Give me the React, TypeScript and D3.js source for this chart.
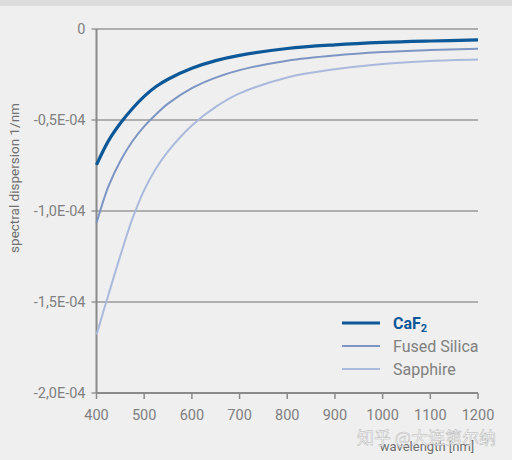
import React, { useEffect, useRef } from 'react';
import * as d3 from 'd3';

// wavelength [nm]
const wavelengths = [400, 425, 450, 475, 500, 525, 550, 600, 650, 700, 800, 900, 1000, 1100, 1200];

// spectral dispersion, in units of 1E-04 1/nm
const caf2 = [-0.747, -0.615, -0.518, -0.438, -0.37, -0.316, -0.276, -0.216, -0.174, -0.145, -0.107, -0.087, -0.074, -0.066, -0.06];
const fusedSilica = [-1.066, -0.865, -0.725, -0.618, -0.535, -0.468, -0.41, -0.325, -0.267, -0.226, -0.174, -0.145, -0.127, -0.116, -0.108];
const sapphire = [-1.68, -1.46, -1.245, -1.045, -0.885, -0.765, -0.672, -0.53, -0.428, -0.354, -0.266, -0.221, -0.192, -0.176, -0.168];

const xTicks = [400, 500, 600, 700, 800, 900, 1000, 1100, 1200];
const yTicks = [0, -0.5, -1.0, -1.5, -2.0];
const yTickLabels = ['0', '-0,5E-04', '-1,0E-04', '-1,5E-04', '-2,0E-04'];

const seriesNames = ['CaF2', 'Fused Silica', 'Sapphire'];
const seriesColors = ['#0d5898', '#7d95c2', '#aab9dc'];
const seriesWidths = [3.2, 2, 2];

const FONT = 'Roboto, sans-serif';

const Chart: React.FC = () => {
  const svgRef = useRef<SVGSVGElement | null>(null);

  useEffect(() => {
    const svg = d3.select(svgRef.current);
    svg.selectAll('*').remove();

    const width = 512;
    const height = 460;
    const margin = { top: 29, right: 34, bottom: 67, left: 96.5 };

    svg.append('rect').attr('width', width).attr('height', height).attr('fill', '#efefef');
    svg.append('rect').attr('width', width).attr('height', 6).attr('fill', '#dcdcdc');

    const x = d3.scaleLinear().domain([400, 1200]).range([margin.left, width - margin.right]);
    const y = d3.scaleLinear().domain([-2.0, 0]).range([height - margin.bottom, margin.top]);

    // grid
    svg
      .append('g')
      .selectAll('line')
      .data(yTicks)
      .join('line')
      .attr('x1', margin.left - 5)
      .attr('x2', x(1200))
      .attr('y1', (d) => y(d))
      .attr('y2', (d) => y(d))
      .attr('stroke', '#9a9a9a')
      .attr('stroke-width', 1.5);

    // y labels
    svg
      .append('g')
      .selectAll('text')
      .data(yTicks)
      .join('text')
      .attr('x', margin.left - 11)
      .attr('y', (d) => y(d))
      .attr('dy', '0.35em')
      .attr('text-anchor', 'end')
      .attr('font-family', FONT)
      .attr('font-size', 14.5)
      .attr('fill', '#808080')
      .text((_, i) => yTickLabels[i]);

    // axes
    svg
      .append('line')
      .attr('x1', x(400))
      .attr('x2', x(400))
      .attr('y1', y(0))
      .attr('y2', y(-2.0))
      .attr('stroke', '#8a8a8a')
      .attr('stroke-width', 2);
    svg
      .append('line')
      .attr('x1', x(400))
      .attr('x2', x(1200))
      .attr('y1', y(-2.0))
      .attr('y2', y(-2.0))
      .attr('stroke', '#8a8a8a')
      .attr('stroke-width', 2);

    svg
      .append('g')
      .selectAll('line')
      .data(xTicks)
      .join('line')
      .attr('x1', (d) => x(d))
      .attr('x2', (d) => x(d))
      .attr('y1', y(-2.0))
      .attr('y2', y(-2.0) + 6)
      .attr('stroke', '#8a8a8a')
      .attr('stroke-width', 1.5);

    svg
      .append('g')
      .selectAll('text')
      .data(xTicks)
      .join('text')
      .attr('x', (d) => x(d))
      .attr('y', y(-2.0) + 27)
      .attr('text-anchor', 'middle')
      .attr('font-family', FONT)
      .attr('font-size', 14.5)
      .attr('fill', '#808080')
      .text((d) => String(d));

    // axis titles
    svg
      .append('text')
      .attr('transform', `translate(19,178) rotate(-90)`)
      .attr('text-anchor', 'middle')
      .attr('font-family', FONT)
      .attr('font-size', 13.5)
      .attr('fill', '#707070')
      .text('spectral dispersion  1/nm');

    svg
      .append('text')
      .attr('x', 427)
      .attr('y', 451)
      .attr('text-anchor', 'middle')
      .attr('font-family', FONT)
      .attr('font-size', 13)
      .attr('fill', '#707070')
      .text('wavelength [nm]');

    // curves
    const allSeries = [caf2, fusedSilica, sapphire];
    const line = d3
      .line<number>()
      .x((_, i) => x(wavelengths[i]))
      .y((d) => y(d))
      .curve(d3.curveCatmullRom.alpha(0.5));

    for (let s = allSeries.length - 1; s >= 0; s--) {
      svg
        .append('path')
        .datum(allSeries[s])
        .attr('fill', 'none')
        .attr('stroke', seriesColors[s])
        .attr('stroke-width', seriesWidths[s])
        .attr('d', line);
    }

    // legend
    const lg = svg.append('g').attr('transform', 'translate(342,323)');
    seriesNames.forEach((name, i) => {
      lg.append('line')
        .attr('x1', 0)
        .attr('x2', 38)
        .attr('y1', i * 23)
        .attr('y2', i * 23)
        .attr('stroke', seriesColors[i])
        .attr('stroke-width', seriesWidths[i]);
      const t = lg
        .append('text')
        .attr('x', 51)
        .attr('y', i * 23)
        .attr('dy', '0.35em')
        .attr('font-family', FONT)
        .attr('font-size', 16)
        .attr('fill', i === 0 ? seriesColors[0] : '#808080')
        .attr('font-weight', i === 0 ? 'bold' : 'normal');
      if (i === 0) {
        t.append('tspan').text('CaF');
        t.append('tspan').attr('font-size', 11).attr('dy', '0.3em').text('2');
      } else {
        t.text(name);
      }
    });

    // watermark
    svg
      .append('text')
      .attr('x', 357)
      .attr('y', 444)
      .attr('font-family', "'Noto Sans CJK SC', sans-serif")
      .attr('font-size', 17)
      .attr('fill', '#ffffff')
      .attr('fill-opacity', 0.75)
      .attr('stroke', '#b8b8b8')
      .attr('stroke-width', 0.5)
      .text('知乎 @大连第尔纳');
  }, []);

  return (
    <svg
      ref={svgRef}
      width={512}
      height={460}
      style={{ position: 'absolute', left: 0, top: 0 }}
    ></svg>
  );
};

export default function App() {
  return <Chart />;
}
